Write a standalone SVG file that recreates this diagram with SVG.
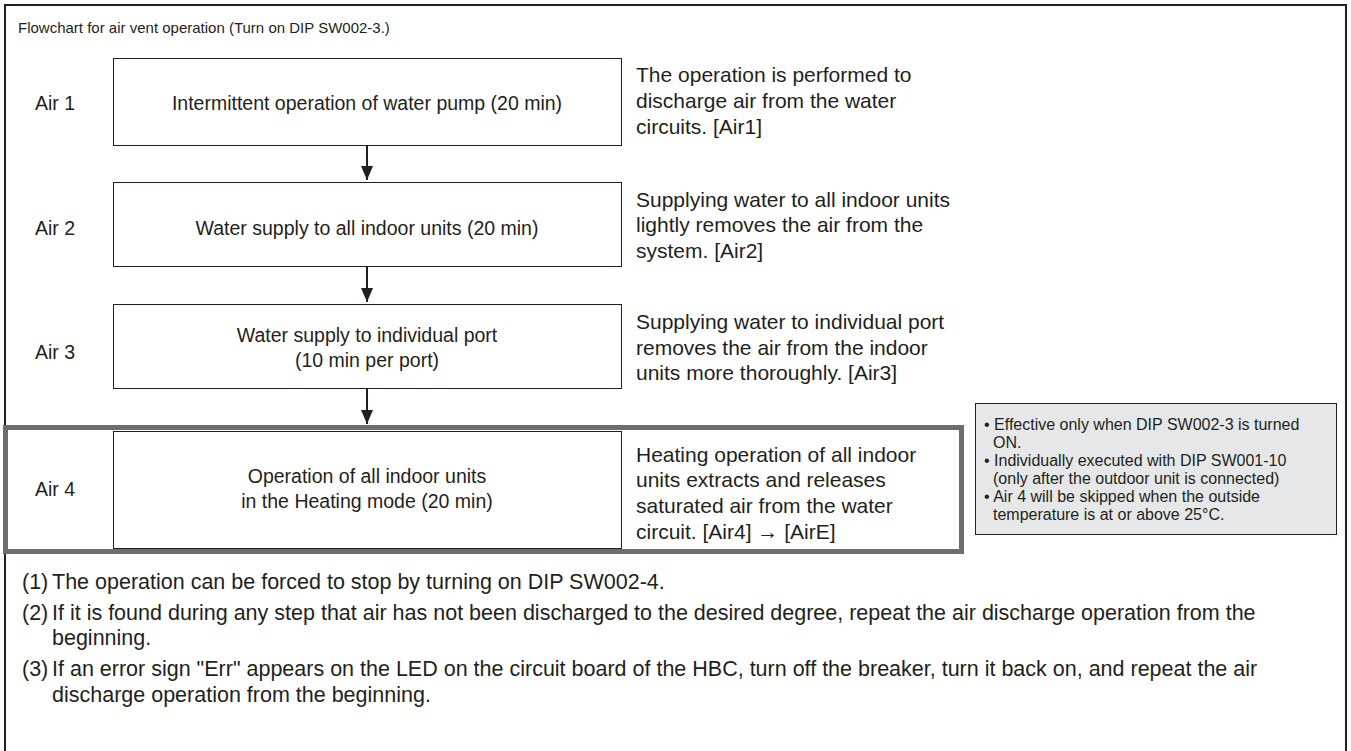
<svg xmlns="http://www.w3.org/2000/svg" width="1351" height="751" viewBox="0 0 1351 751">
  <style>
    text { font-family: "Liberation Sans", Arial, sans-serif; fill: #231f20; }
    .h { font-size: 15px; }
    .t { font-size: 19.5px; }
    .d { font-size: 21px; }
    .r { font-size: 21.5px; }
    .c { text-anchor: middle; }
    .n { font-size: 16px; }
    .box { fill: #ffffff; stroke: #231f20; stroke-width: 1; }
    .edge { stroke: #231f20; stroke-width: 2; fill: none; }
  </style>
  <defs>
    <marker id="head" markerWidth="14" markerHeight="12" refX="14" refY="6" orient="auto" markerUnits="userSpaceOnUse">
      <path d="M0,0 L14,6 L0,12 Z" fill="#231f20"/>
    </marker>
  </defs>

  <rect x="0" y="0" width="1351" height="751" fill="#ffffff"/>

  <!-- outer frame, open at the bottom edge -->
  <path d="M5,760 L5,5 L1346,5 L1346,760" fill="none" stroke="#231f20" stroke-width="2"/>

  <text class="h" x="18" y="33">Flowchart for air vent operation (Turn on DIP SW002-3.)</text>

  <!-- heavy grey frame around step 4 -->
  <rect x="5.5" y="427.5" width="956" height="124" fill="none" stroke="#6d6e71" stroke-width="5"/>

  <g id="connectors">
    <line class="edge" x1="367" y1="145" x2="367" y2="180" marker-end="url(#head)"/>
    <line class="edge" x1="367" y1="266" x2="367" y2="302" marker-end="url(#head)"/>
    <line class="edge" x1="367" y1="388" x2="367" y2="424" marker-end="url(#head)"/>
  </g>

  <g id="air1">
    <text class="t" x="35" y="110">Air 1</text>
    <rect class="box" x="113.5" y="58.5" width="508" height="87"/>
    <text class="t c" x="367" y="110">Intermittent operation of water pump (20 min)</text>
    <text class="d" x="636" y="82">The operation is performed to</text>
    <text class="d" x="636" y="108">discharge air from the water</text>
    <text class="d" x="636" y="134">circuits. [Air1]</text>
  </g>

  <g id="air2">
    <text class="t" x="35" y="235">Air 2</text>
    <rect class="box" x="113.5" y="182.5" width="508" height="84"/>
    <text class="t c" x="367" y="235">Water supply to all indoor units (20 min)</text>
    <text class="d" x="636" y="207">Supplying water to all indoor units</text>
    <text class="d" x="636" y="232">lightly removes the air from the</text>
    <text class="d" x="636" y="258">system. [Air2]</text>
  </g>

  <g id="air3">
    <text class="t" x="35" y="359">Air 3</text>
    <rect class="box" x="113.5" y="304.5" width="508" height="84"/>
    <text class="t c" x="367" y="342">Water supply to individual port</text>
    <text class="t c" x="367" y="367">(10 min per port)</text>
    <text class="d" x="636" y="329">Supplying water to individual port</text>
    <text class="d" x="636" y="355">removes the air from the indoor</text>
    <text class="d" x="636" y="380">units more thoroughly. [Air3]</text>
  </g>

  <g id="air4">
    <text class="t" x="35" y="496">Air 4</text>
    <rect class="box" x="113.5" y="431.5" width="508" height="117"/>
    <text class="t c" x="367" y="483">Operation of all indoor units</text>
    <text class="t c" x="367" y="508">in the Heating mode (20 min)</text>
    <text class="d" x="636" y="462">Heating operation of all indoor</text>
    <text class="d" x="636" y="487">units extracts and releases</text>
    <text class="d" x="636" y="513">saturated air from the water</text>
    <text class="d" x="636" y="539">circuit. [Air4] → [AirE]</text>
  </g>

  <g id="note">
    <rect x="975.5" y="403.5" width="361" height="131" fill="#e6e7e8" stroke="#231f20" stroke-width="1"/>
    <text class="n" x="984" y="430">• Effective only when DIP SW002-3 is turned</text>
    <text class="n" x="993" y="448">ON.</text>
    <text class="n" x="984" y="466">• Individually executed with DIP SW001-10</text>
    <text class="n" x="993" y="484">(only after the outdoor unit is connected)</text>
    <text class="n" x="984" y="502">• Air 4 will be skipped when the outside</text>
    <text class="n" x="993" y="520">temperature is at or above 25°C.</text>
  </g>

  <g id="remarks">
    <text class="r" x="22" y="589">(1)</text>
    <text class="r" x="52" y="589">The operation can be forced to stop by turning on DIP SW002-4.</text>
    <text class="r" x="22" y="620">(2)</text>
    <text class="r" x="52" y="620">If it is found during any step that air has not been discharged to the desired degree, repeat the air discharge operation from the</text>
    <text class="r" x="52" y="645">beginning.</text>
    <text class="r" x="22" y="676">(3)</text>
    <text class="r" x="52" y="676">If an error sign "Err" appears on the LED on the circuit board of the HBC, turn off the breaker, turn it back on, and repeat the air</text>
    <text class="r" x="52" y="702">discharge operation from the beginning.</text>
  </g>
</svg>
